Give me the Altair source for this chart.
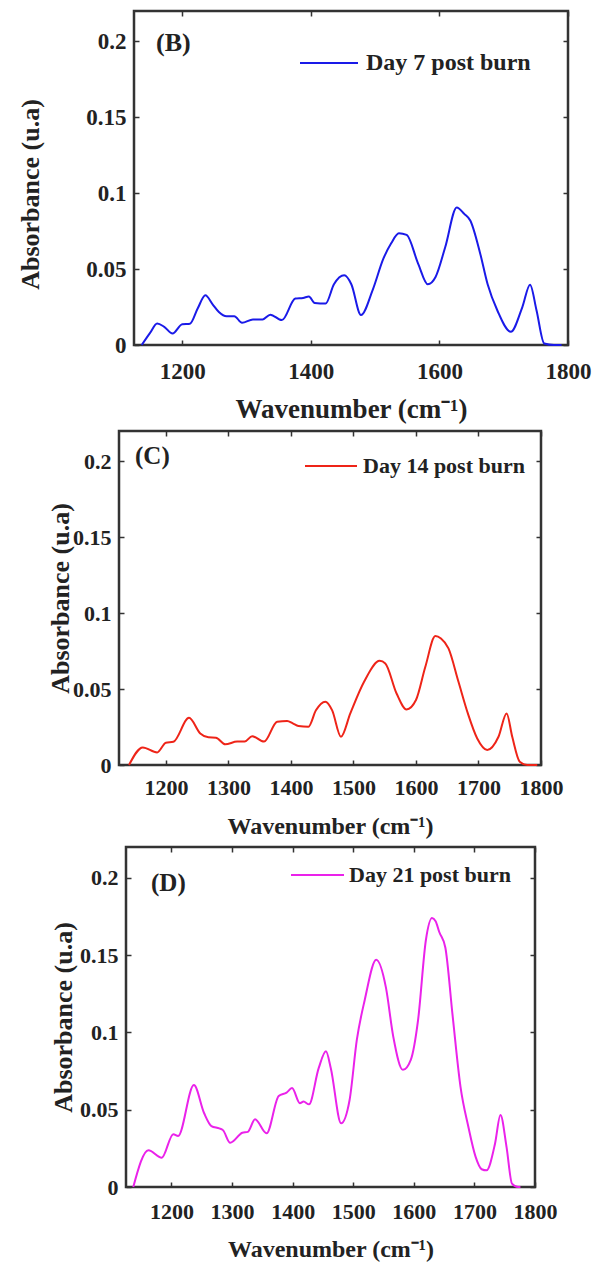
import altair as alt
import pandas as pd

FONT = "Liberation Serif"
INK = "#222222"
FRAME = "#333333"

# ---- data ----
wn_b = [1137, 1150, 1161, 1172, 1185, 1200, 1212, 1224, 1236, 1247, 1257, 1269, 1281, 1293, 1310,
        1325, 1337, 1355, 1376, 1388, 1397, 1406, 1423, 1436, 1452, 1463, 1478, 1496, 1513, 1525,
        1537, 1549, 1567, 1582, 1594, 1609, 1627, 1639, 1648, 1663, 1675, 1690, 1711, 1729, 1741,
        1751, 1763, 1778, 1790]
abs_b = [0, 0.008, 0.0142, 0.012, 0.0076, 0.0137, 0.014, 0.024, 0.0327, 0.027, 0.0218, 0.019, 0.019,
         0.0146, 0.0168, 0.0168, 0.020, 0.0164, 0.0306, 0.031, 0.032, 0.0277, 0.0273, 0.040, 0.0459,
         0.040, 0.0197, 0.036, 0.057, 0.067, 0.0736, 0.0725, 0.0535, 0.040, 0.0448, 0.0644, 0.0906,
         0.0862, 0.082, 0.061, 0.040, 0.0229, 0.0087, 0.025, 0.0397, 0.0229, 0.001, 0, 0]

wn_c = [1141, 1163, 1186, 1200, 1212, 1237, 1255, 1268, 1280, 1295, 1314, 1326, 1338, 1357, 1378,
        1394, 1403, 1412, 1428, 1440, 1455, 1466, 1480, 1495, 1517, 1542, 1551, 1569, 1585, 1600,
        1615, 1631, 1640, 1652, 1668, 1683, 1698, 1714, 1732, 1745, 1754, 1766, 1778, 1794]
abs_c = [0, 0.0116, 0.0083, 0.0147, 0.0153, 0.0311, 0.0208, 0.0182, 0.018, 0.0136, 0.0154, 0.0154,
         0.019, 0.0154, 0.0285, 0.029, 0.0274, 0.0257, 0.0252, 0.036, 0.0417, 0.036, 0.0186, 0.034,
         0.0548, 0.0686, 0.0669, 0.0471, 0.0366, 0.0428, 0.0647, 0.0849, 0.0833, 0.0768, 0.0548,
         0.034, 0.0175, 0.0099, 0.0186, 0.034, 0.0186, 0.0022, 0, 0]

wn_d = [1137, 1162, 1184, 1203, 1211, 1237, 1254, 1266, 1279, 1285, 1297, 1317, 1326, 1338, 1357,
        1377, 1390, 1399, 1412, 1418, 1427, 1443, 1455, 1463, 1480, 1494, 1506, 1519, 1538, 1554,
        1566, 1582, 1595, 1607, 1620, 1630, 1636, 1642, 1652, 1664, 1677, 1690, 1702, 1712, 1720,
        1734, 1743, 1753, 1762, 1772, 1776]
abs_d = [0, 0.0238, 0.019, 0.0342, 0.033, 0.066, 0.0477, 0.0394, 0.0379, 0.0368, 0.0286, 0.0351,
         0.0357, 0.0438, 0.0347, 0.0589, 0.0611, 0.064, 0.0542, 0.0553, 0.0535, 0.0769, 0.0878,
         0.0769, 0.0412, 0.0563, 0.0953, 0.121, 0.147, 0.129, 0.0975, 0.0758, 0.0823, 0.108, 0.160,
         0.174, 0.172, 0.165, 0.155, 0.111, 0.065, 0.039, 0.0195, 0.0115, 0.0108, 0.028, 0.0466,
         0.026, 0.0022, 0, 0]

series_names = ["Day 7 post burn", "Day 14 post burn", "Day 21 post burn"]
series_colors = ["#1a1ae8", "#ee2418", "#ea22ea"]
panel_letters = ["(B)", "(C)", "(D)"]
xticks_b = [1200, 1400, 1600, 1800]
xticks_cd = [1200, 1300, 1400, 1500, 1600, 1700, 1800]
yticks = [0, 0.05, 0.1, 0.15, 0.2]
x_domain = [1125, 1800]
y_domain = [0, 0.22]


def panel(wn, ab, name, color, letter, width, height, xticks, lay):
    df = pd.DataFrame({"wn": wn, "ab": ab})
    xs = alt.Scale(domain=x_domain, nice=False, zero=False)
    ys = alt.Scale(domain=y_domain, nice=False)
    base = alt.Chart(df)
    line = base.mark_line(strokeWidth=2, interpolate="monotone", color=color).encode(
        x=alt.X("wn:Q", scale=xs, axis=alt.Axis(
            values=xticks, format="d", offset=-5, tickSize=5, domain=False, grid=False,
            labelOverlap=False, labelFlush=False,
            labelPadding=lay["lp"], title="Wavenumber (cm⁻¹)", titlePadding=lay["tp"],
            titleFontSize=lay["xts"], labelFontSize=lay["tls"])),
        y=alt.Y("ab:Q", scale=ys, axis=alt.Axis(
            values=yticks, format="~g", offset=-5, tickSize=5, domain=False, grid=False,
            labelOverlap=False, labelFlush=False,
            labelPadding=8, title="Absorbance (u.a)", titleX=lay["tx"], titleY=lay["ty"],
            titleAngle=270, titleBaseline="middle", titleAlign="center",
            titleFontSize=26, labelFontSize=lay["tls"])),
    )
    ghost = base.mark_line(strokeOpacity=0).encode(
        x=alt.X("wn:Q", scale=xs, axis=alt.Axis(
            orient="top", values=xticks, labels=False, offset=-5, tickSize=5,
            domain=False, grid=False, title="")),
        y=alt.Y("ab:Q", scale=ys, axis=alt.Axis(
            orient="right", values=yticks, labels=False, offset=-5, tickSize=5,
            domain=False, grid=False, title="")),
    )
    ann = pd.DataFrame({"letter": [letter], "name": [name]})
    lab = alt.Chart(ann).mark_text(
        font=FONT, fontSize=lay["pfs"], fontWeight="bold", align="left", baseline="middle", color=INK
    ).encode(x=alt.value(lay["px"]), y=alt.value(lay["py"]), text="letter:N")
    leg_line = alt.Chart(ann).mark_rule(color=color, strokeWidth=2).encode(
        x=alt.value(lay["lx"]), x2=alt.value(lay["lx"] + lay["ll"]), y=alt.value(lay["ly"]))
    leg_text = alt.Chart(ann).mark_text(
        font=FONT, fontSize=lay["lfs"], fontWeight="bold", align="left", baseline="middle", color=INK
    ).encode(x=alt.value(lay["lx"] + lay["ll"] + lay["lo"]), y=alt.value(lay["ly"]), text="name:N")
    return alt.layer(line, ghost, lab, leg_line, leg_text).resolve_axis(
        x="independent", y="independent").properties(width=width, height=height)


def spacer(w):
    return alt.Chart(pd.DataFrame({"a": [0]})).mark_point(size=0, opacity=0).encode(
        x=alt.value(0), y=alt.value(0)
    ).properties(width=w, height=10, view=alt.ViewBackground(stroke="transparent"))


pB = panel(wn_b, abs_b, series_names[0], series_colors[0], panel_letters[0], 434, 334, xticks_b,
           dict(lp=15, tp=13, tx=-109, ty=183, lx=166, ll=58, ly=52, lo=8, lfs=24,
                px=22, py=32, pfs=26, tls=23, xts=27))
pC = panel(wn_c, abs_c, series_names[1], series_colors[1], panel_letters[1], 422, 334, xticks_cd,
           dict(lp=12, tp=16, tx=-64, ty=167, lx=186, ll=52, ly=35, lo=6, lfs=22,
                px=16, py=25, pfs=25, tls=22, xts=24))
pD = panel(wn_d, abs_d, series_names[2], series_colors[2], panel_letters[2], 409, 340, xticks_cd,
           dict(lp=14, tp=15, tx=-68, ty=170, lx=165, ll=53, ly=28, lo=5, lfs=22,
                px=25, py=36, pfs=25, tls=22, xts=24))

rowB = alt.hconcat(spacer(2), pB, spacing=0)
rowC = alt.hconcat(spacer(32), pC, spacing=0)
rowD = alt.hconcat(spacer(35), pD, spacing=0)
inner = alt.vconcat(rowC, rowD, spacing=5)

chart = alt.vconcat(rowB, inner, spacing=5).properties(
    padding={"left": 9, "top": 9, "right": 0, "bottom": 0}, background="white"
).configure_view(stroke=FRAME, strokeWidth=2.5).configure_axis(
    labelFont=FONT, labelFontWeight="bold", labelColor=INK,
    titleFont=FONT, titleFontWeight="bold", titleColor=INK,
    tickColor=FRAME, tickWidth=1.5,
)

chart.save("out.html", embed_options={"renderer": "svg", "actions": False})
